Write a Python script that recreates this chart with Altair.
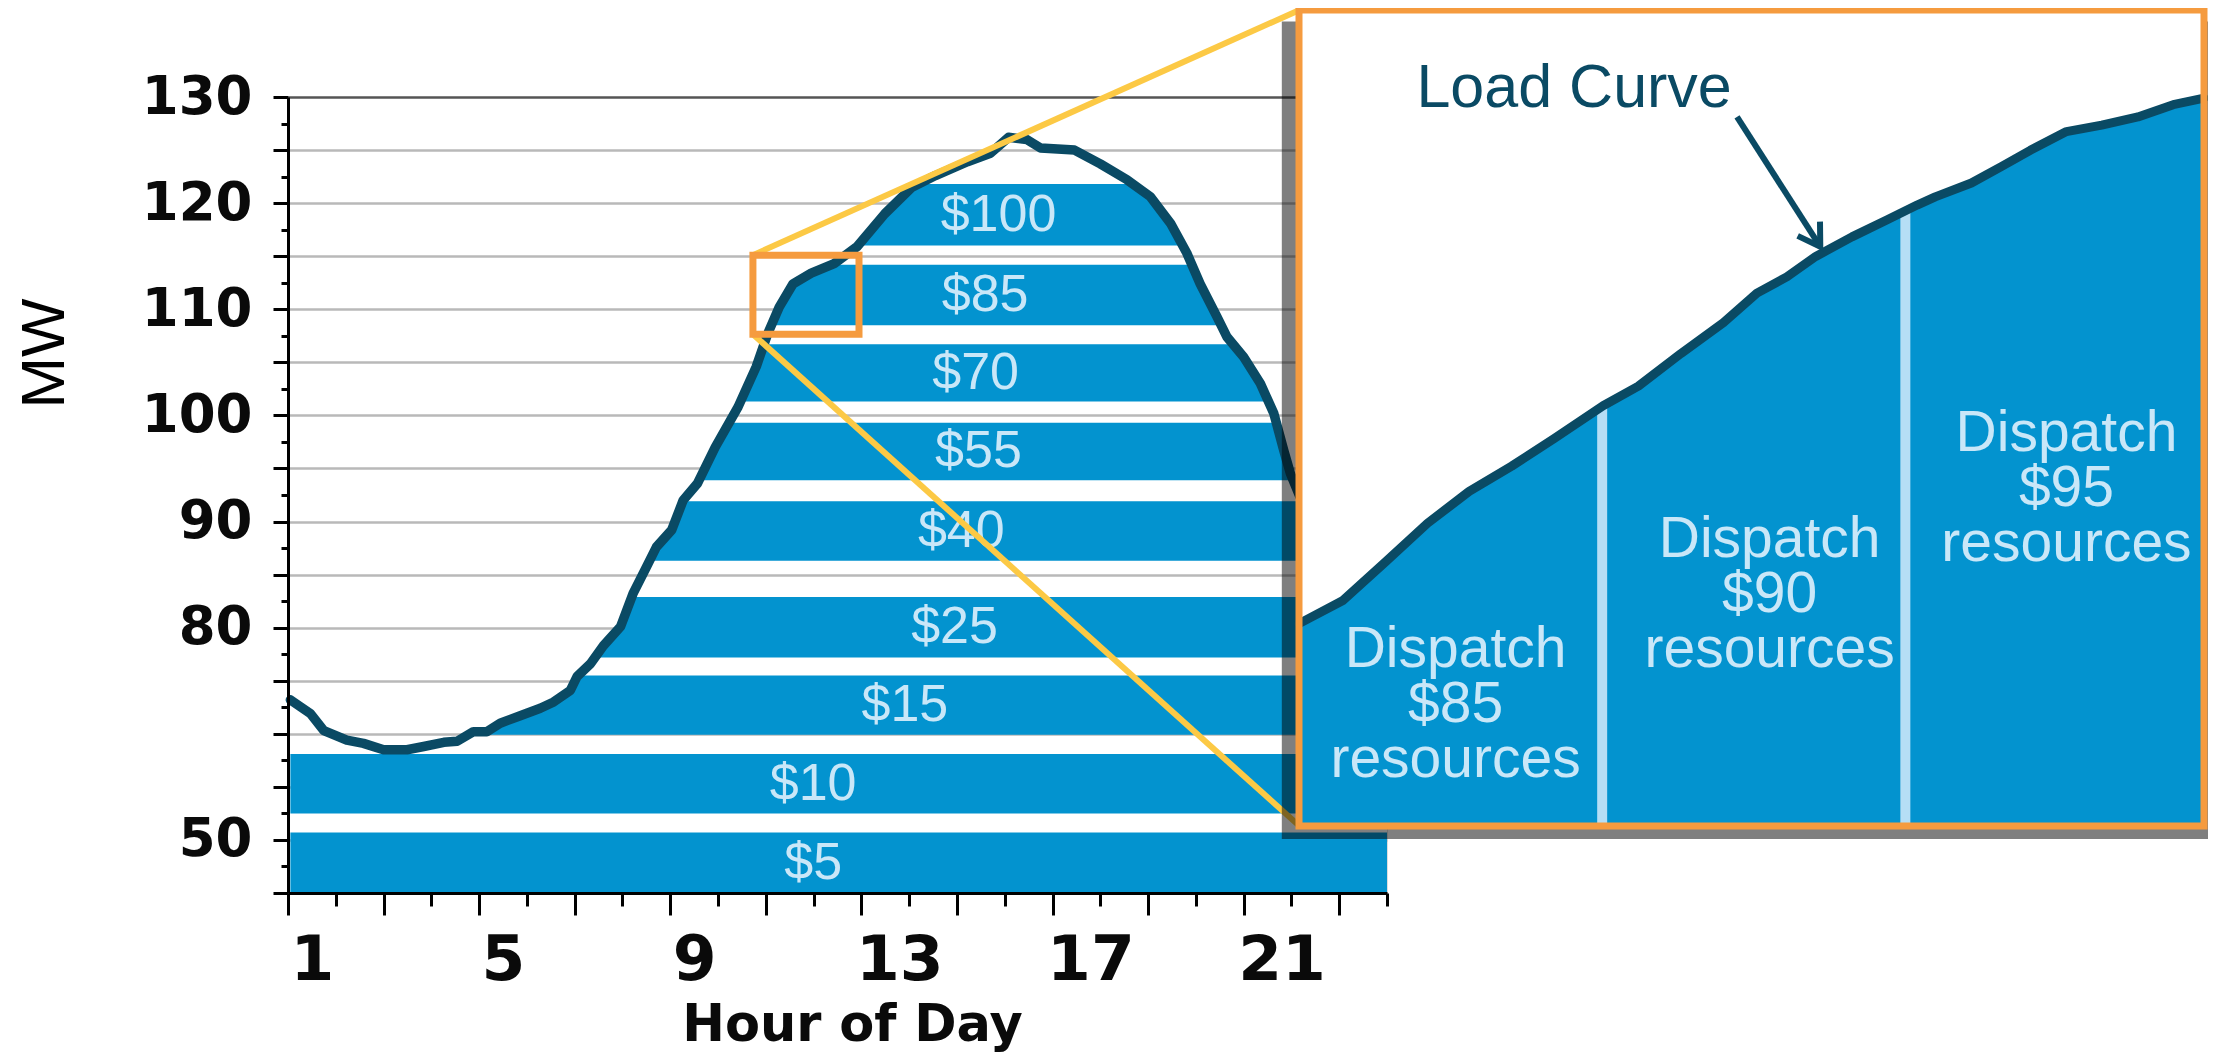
import altair as alt
import pandas as pd

# ---------------- main chart data (hour of day, MW as drawn) ----------------
hours = [0.55, 0.97, 1.25, 1.73, 2.08, 2.50, 2.99, 3.34, 3.76, 4.04, 4.38, 4.66, 4.94,
         5.36, 5.78, 6.06, 6.41, 6.55, 6.83, 7.10, 7.46, 7.72, 8.00, 8.21, 8.53, 8.77,
         9.07, 9.44, 9.92, 10.30, 10.54, 10.78, 11.07, 11.45, 11.93, 12.41, 12.99, 13.56,
         14.05, 14.72, 15.20, 15.58, 15.96, 16.25, 16.96, 17.50, 18.06, 18.55, 18.97,
         19.31, 19.59, 19.94, 20.15, 20.50, 20.85, 21.13, 21.34, 21.48, 21.80, 22.20,
         22.70, 23.50]
load_mw = [73.2, 71.9, 70.3, 69.4, 69.1, 68.5, 68.5, 68.8, 69.2, 69.3, 70.2, 70.2, 71.0,
           71.7, 72.4, 73.0, 74.1, 75.4, 76.6, 78.3, 80.1, 83.2, 85.7, 87.6, 89.2, 92.0,
           93.6, 97.0, 100.8, 104.6, 107.7, 110.2, 112.4, 113.4, 114.3, 115.9, 119.0, 121.5,
           122.6, 123.9, 124.7, 126.2, 126.0, 125.2, 125.0, 123.7, 122.2, 120.6, 118.1,
           115.3, 112.4, 109.3, 107.4, 105.5, 103.0, 100.2, 96.7, 94.5, 91.0, 87.5,
           84.0, 80.5]

band_price = ["$5", "$10", "$15", "$25", "$40", "$55", "$70", "$85", "$100"]
band_lo = [55.0, 62.5, 69.9, 77.2, 86.3, 93.9, 101.3, 108.5, 116.0]
band_hi = [60.7, 68.1, 75.5, 82.9, 91.9, 99.3, 106.7, 114.2, 121.8]
label_hour = [11.49, 11.49, 13.41, 14.45, 14.59, 14.95, 14.89, 15.09, 15.37]

x_label_values = [1, 5, 9, 13, 17, 21]
x_long_ticks = [0.5, 2.5, 4.5, 6.5, 8.5, 10.5, 12.5, 14.5, 16.5, 18.5, 20.5, 22.5]
x_short_ticks = [1.5, 3.5, 5.5, 7.5, 9.5, 11.5, 13.5, 15.5, 17.5, 19.5, 21.5, 23.5]
y_major = [55, 60, 65, 70, 75, 80, 85, 90, 95, 100, 105, 110, 115, 120, 125, 130]
y_grid = [60, 65, 70, 75, 80, 85, 90, 95, 100, 105, 110, 115, 120, 125, 130]
y_minor = [57.5, 62.5, 67.5, 72.5, 77.5, 82.5, 87.5, 92.5, 97.5, 102.5, 107.5,
           112.5, 117.5, 122.5, 127.5]

zoom_box_hours = [10.23, 12.45]
zoom_box_mw = [107.65, 115.1]
inset_corner_hour = 21.67
inset_corner_mw = [138.2, 61.3]

# ---------------- inset (zoomed view, 0-100 relative units) ----------------
inset_u = [0.0, 4.8, 9.5, 14.2, 18.8, 23.5, 28.2, 33.6, 37.5, 42.2, 46.9, 50.6, 53.9,
           57.1, 61.1, 65.0, 68.3, 70.3, 74.3, 77.6, 80.8, 84.8, 88.7, 92.7, 96.6, 100.0]
inset_v = [24.8, 27.6, 32.3, 37.1, 41.0, 44.1, 47.5, 51.5, 53.9, 57.9, 61.7, 65.3, 67.3,
           69.8, 72.2, 74.3, 76.1, 77.1, 78.8, 80.8, 82.8, 85.1, 85.9, 86.9, 88.4, 89.2]
divider_u = [33.5, 67.0]
divider_top = [51.4, 75.4]
dispatch_text = ["Dispatch\n$85\nresources", "Dispatch\n$90\nresources",
                 "Dispatch\n$95\nresources"]
dispatch_u = [17.3, 52.0, 84.8]
dispatch_v = [21.6, 35.0, 48.0]
callout_text = ["Load Curve"]
callout_u = [30.4]
callout_v = [88.1]
arrow_u = [48.4, 57.6]
arrow_v = [86.9, 71.0]
shadow_u = [-1.9, 100.5]
shadow_v = [-1.6, 98.6]

# ---------------- styles ----------------
BLUE = "#0393cf"
NAVY = "#0a4a64"
LIGHT = "#c9e7f8"
DIVIDER = "#b6def5"
ORANGE = "#f59b3f"
YELLOW = "#fcc945"
GRID = "#b9b9b9"
FB = "DejaVu Sans"
FR = "Liberation Sans"

# ---------------- tables ----------------
def band_points(lo, hi):
    pts = []
    n = len(hours)
    for i in range(n):
        pts.append((hours[i], load_mw[i]))
        if i + 1 < n:
            m0, m1 = load_mw[i], load_mw[i + 1]
            for lvl in (lo, hi):
                if (m0 - lvl) * (m1 - lvl) < 0:
                    t = (lvl - m0) / (m1 - m0)
                    pts.append((hours[i] + t * (hours[i + 1] - hours[i]), lvl))
    pts.sort()
    ipk = max(range(len(pts)), key=lambda k: pts[k][1])
    a = ipk
    while a > 0 and pts[a - 1][1] >= lo - 1e-9:
        a -= 1
    b = ipk
    while b < len(pts) - 1 and pts[b + 1][1] >= lo - 1e-9:
        b += 1
    return [(h, min(m, hi)) for h, m in pts[a:b + 1]]

rows = []
for p, lo, hi in zip(band_price, band_lo, band_hi):
    for h, top in band_points(lo, hi):
        rows.append({"band": p, "h": h, "top": top, "lo": lo})
bands_df = pd.DataFrame(rows)
curve_df = pd.DataFrame({"h": hours, "mw": load_mw})
lab_df = pd.DataFrame({"price": band_price, "h": label_hour,
                       "mid": [(a + b) / 2 for a, b in zip(band_lo, band_hi)]})
conn_df = pd.DataFrame({"h1": [zoom_box_hours[0]] * 2, "m1": [zoom_box_mw[1], zoom_box_mw[0]],
                        "h2": [inset_corner_hour] * 2, "m2": inset_corner_mw})
box_df = pd.DataFrame({"h1": [zoom_box_hours[0]], "h2": [zoom_box_hours[1]],
                       "m1": [zoom_box_mw[0]], "m2": [zoom_box_mw[1]]})

icurve_df = pd.DataFrame({"u": inset_u, "v": inset_v, "base": [0.0] * len(inset_u)})
div_df = pd.DataFrame({"u": divider_u, "top": divider_top, "base": [0.0] * 2})
disp_df = pd.DataFrame({"t": dispatch_text, "u": dispatch_u, "v": dispatch_v})
call_df = pd.DataFrame({"t": callout_text, "u": callout_u, "v": callout_v})
arrow_df = pd.DataFrame({"u1": [arrow_u[0]], "v1": [arrow_v[0]], "u2": [arrow_u[1]], "v2": [arrow_v[1]]})
frame_df = pd.DataFrame({"u0": [0.0], "u1": [100.0], "v0": [0.0], "v1": [100.0]})
shadow_df = pd.DataFrame({"u0": [shadow_u[0]], "u1": [shadow_u[1]],
                          "v0": [shadow_v[0]], "v1": [shadow_v[1]]})

# ---------------- scales & axes ----------------
x_scale = alt.Scale(domain=[0.5, 23.5], nice=False, zero=False)
y_scale = alt.Scale(domain=[55, 130], nice=False, zero=False)
us = alt.Scale(domain=[0, 100], range=[1011, 1916], nice=False, zero=False)
vs = alt.Scale(domain=[0, 100], range=[729, -87], nice=False, zero=False)

x_lab_axis = alt.Axis(orient="bottom", values=x_label_values, format="d", ticks=False, tickSize=0,
                      grid=False, domain=True, domainColor="#000000", domainWidth=3,
                      labelFont=FB, labelFontWeight="bold", labelFontSize=63, labelColor="#0a0a0a",
                      labelPadding=36, labelBaseline="top", labelOverlap=False, labelFlush=False,
                      labelOffset={"condition": {"test": "datum.value >= 13", "value": 14},
                                   "value": 0},
                      title="Hour of Day", titleFont=FB, titleFontWeight="bold", titleFontSize=51,
                      titleColor="#0a0a0a", titleX=564, titleY=147, titleAlign="center",
                      titleBaseline="alphabetic", titleAngle=0, zindex=1)
x_long_axis = alt.Axis(orient="bottom", values=x_long_ticks, labels=False, domain=False, grid=False,
                       ticks=True, tickSize=22, tickWidth=3, tickColor="#000000", title=None, zindex=1)
x_short_axis = alt.Axis(orient="bottom", values=x_short_ticks, labels=False, domain=False, grid=False,
                        ticks=True, tickSize=13, tickWidth=3, tickColor="#000000", title=None, zindex=1)

y_grid_axis = alt.Axis(orient="left", values=y_grid, grid=True,
                       gridColor={"condition": {"test": "datum.value === 130", "value": "#555555"},
                                  "value": GRID},
                       gridWidth=2.5, labels=False, ticks=False, domain=False, title=None, zindex=0)
y_main_axis = alt.Axis(orient="left", values=y_major,
                       labelExpr="datum.value == 60 ? '50' : ((datum.value >= 80 && datum.value % 10 == 0) ? datum.label : '')",
                       labelOverlap=False, labelFlush=False, ticks=True, tickSize=15, tickWidth=3,
                       tickColor="#000000", domain=True, domainWidth=3, domainColor="#000000",
                       grid=False, labelFont=FB, labelFontWeight="bold", labelFontSize=53,
                       labelColor="#0a0a0a", labelPadding=21, labelAlign="right",
                       labelBaseline="middle",
                       title="MW", titleFont=FR, titleFontWeight="normal", titleFontSize=62,
                       titleColor="#000000", titleAngle=270, titleX=-244, titleY=256,
                       titleAlign="center", titleBaseline="middle", zindex=1)
y_minor_axis = alt.Axis(orient="left", values=y_minor, labels=False, domain=False, grid=False,
                        ticks=True, tickSize=7, tickWidth=3, tickColor="#000000", title=None, zindex=1)

# ---------------- main layers ----------------
bands = alt.Chart(bands_df).mark_area(color=BLUE, interpolate="linear").encode(
    x=alt.X("h:Q", scale=x_scale, axis=x_lab_axis),
    y=alt.Y("top:Q", scale=y_scale, axis=y_grid_axis),
    y2="lo:Q",
    detail="band:N",
)
curve = alt.Chart(curve_df).mark_line(color=NAVY, strokeWidth=9.5, strokeJoin="round",
                                      strokeCap="round").encode(
    x=alt.X("h:Q", scale=x_scale, axis=x_long_axis),
    y=alt.Y("mw:Q", scale=y_scale, axis=y_main_axis),
)
labels = alt.Chart(lab_df).mark_text(font=FR, fontSize=52, color=LIGHT, align="center",
                                     baseline="middle").encode(
    x=alt.X("h:Q", scale=x_scale, axis=x_short_axis),
    y=alt.Y("mid:Q", scale=y_scale, axis=y_minor_axis),
    text="price:N",
)
conn = alt.Chart(conn_df).mark_rule(color=YELLOW, strokeWidth=6).encode(
    x=alt.X("h1:Q", scale=x_scale, axis=None),
    y=alt.Y("m1:Q", scale=y_scale, axis=None),
    x2="h2:Q", y2="m2:Q",
)
box = alt.Chart(box_df).mark_rect(fillOpacity=0, stroke=ORANGE, strokeWidth=7).encode(
    x=alt.X("h1:Q", scale=x_scale, axis=None),
    x2="h2:Q",
    y=alt.Y("m1:Q", scale=y_scale, axis=None),
    y2="m2:Q",
)
main = alt.layer(bands, curve, labels, conn, box).resolve_axis(x="independent", y="independent")

# ---------------- inset layers ----------------
shadow = alt.Chart(shadow_df).mark_rect(color="#000000", opacity=0.5).encode(
    x=alt.X("u0:Q", scale=us, axis=None), x2="u1:Q",
    y=alt.Y("v0:Q", scale=vs, axis=None), y2="v1:Q",
)
panel = alt.Chart(frame_df).mark_rect(color="#ffffff").encode(
    x=alt.X("u0:Q", scale=us, axis=None), x2="u1:Q",
    y=alt.Y("v0:Q", scale=vs, axis=None), y2="v1:Q",
)
ifill = alt.Chart(icurve_df).mark_area(color=BLUE, interpolate="linear").encode(
    x=alt.X("u:Q", scale=us, axis=None),
    y=alt.Y("v:Q", scale=vs, axis=None),
    y2="base:Q",
)
dividers = alt.Chart(div_df).mark_rule(color=DIVIDER, strokeWidth=10).encode(
    x=alt.X("u:Q", scale=us, axis=None),
    y=alt.Y("base:Q", scale=vs, axis=None),
    y2="top:Q",
)
icurve = alt.Chart(icurve_df).mark_line(color=NAVY, strokeWidth=9, strokeJoin="round",
                                        strokeCap="round").encode(
    x=alt.X("u:Q", scale=us, axis=None),
    y=alt.Y("v:Q", scale=vs, axis=None),
)
disp = alt.Chart(disp_df).mark_text(font=FR, fontSize=57, color=LIGHT, align="center",
                                    baseline="middle", lineBreak="\n", lineHeight=55).encode(
    x=alt.X("u:Q", scale=us, axis=None),
    y=alt.Y("v:Q", scale=vs, axis=None),
    text="t:N",
)
callout = alt.Chart(call_df).mark_text(font=FR, fontSize=61, color=NAVY, align="center",
                                       baseline="alphabetic").encode(
    x=alt.X("u:Q", scale=us, axis=None),
    y=alt.Y("v:Q", scale=vs, axis=None),
    text="t:N",
)
arrow_line = alt.Chart(arrow_df).mark_rule(color=NAVY, strokeWidth=6).encode(
    x=alt.X("u1:Q", scale=us, axis=None),
    y=alt.Y("v1:Q", scale=vs, axis=None),
    x2="u2:Q", y2="v2:Q",
)
arrow_head = alt.Chart(arrow_df).mark_point(shape="M -0.53 -0.85 L 0 0 L 0.53 -0.85",
                                            filled=False, size=2500, strokeWidth=6, color=NAVY,
                                            opacity=1, angle=327.4, strokeJoin="miter").encode(
    x=alt.X("u2:Q", scale=us, axis=None),
    y=alt.Y("v2:Q", scale=vs, axis=None),
)
border = alt.Chart(frame_df).mark_rect(fillOpacity=0, stroke=ORANGE, strokeWidth=7).encode(
    x=alt.X("u0:Q", scale=us, axis=None), x2="u1:Q",
    y=alt.Y("v0:Q", scale=vs, axis=None), y2="v1:Q",
)
inset = alt.layer(shadow, panel, ifill, dividers, icurve, disp, callout, arrow_line,
                  arrow_head, border)

chart = alt.layer(main, inset).resolve_scale(x="independent", y="independent").properties(
    width=1099, height=796,
    padding={"left": 280, "top": 89, "right": 821, "bottom": 159},
    autosize=alt.AutoSizeParams(type="none"),
).configure_view(strokeWidth=0).configure(background="#ffffff")

chart.save("out.html", embed_options={"renderer": "svg", "actions": False})
